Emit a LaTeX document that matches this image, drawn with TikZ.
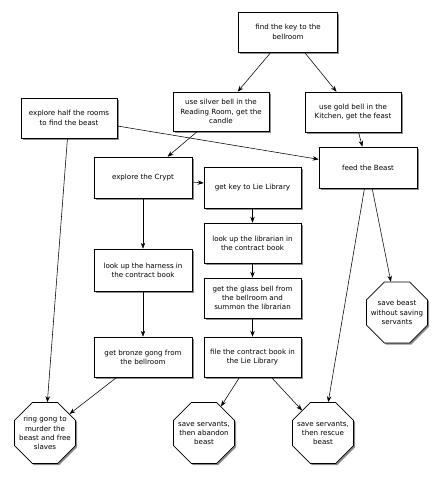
\documentclass[tikz,border=0pt]{standalone}
\usepackage{fontspec}
\setmainfont{DejaVu Sans}
\usetikzlibrary{shapes.geometric,shadows,arrows.meta}
\begin{document}
\begin{tikzpicture}[x=1pt,y=-1pt,
  every node/.style={font=\fontsize{7.1}{9.3}\selectfont, align=center, inner sep=0pt},
  boxnode/.style={draw, line width=0.6pt, fill=white, minimum width=97pt, minimum height=40pt,
    drop shadow={shadow xshift=1.6pt, shadow yshift=-1.6pt, fill=black, opacity=0.45}},
  octa/.style={draw, line width=0.6pt, fill=white, regular polygon, regular polygon sides=8, minimum size=66pt,
    drop shadow={shadow xshift=1.6pt, shadow yshift=-1.6pt, fill=black, opacity=0.45}},
  octatext/.style={},
  conn/.style={-{Stealth[length=6pt,width=4.5pt]}, line width=0.55pt}
]
\useasboundingbox (0,0) rectangle (442,482);
\node[boxnode, minimum width=99pt] (key) at (288,32) {find the key to the\\bellroom};
\node[boxnode, minimum width=96pt, minimum height=39pt] (silver) at (221,111.5) {use silver bell in the\\Reading Room, get the\\candle};
\node[boxnode, minimum width=96pt] (gold) at (353,112) {use gold bell in the\\Kitchen, get the feast};
\node[boxnode, minimum width=96pt] (half) at (69,118) {explore half the rooms\\to find the beast};
\node[boxnode, minimum width=98pt, minimum height=41pt] (feed) at (368,167.5) {feed the Beast};
\node[boxnode, minimum width=98pt, minimum height=41pt] (crypt) at (143,177.5) {explore the Crypt};
\node[boxnode, minimum height=41pt] (getkey) at (252.5,187.5) {get key to Lie Library};
\node[boxnode] (librarian) at (252.5,243) {look up the librarian in\\the contract book};
\node[boxnode, minimum width=98pt, minimum height=42pt] (harness) at (143,270) {look up the harness in\\the contract book};
\node[boxnode] (glass) at (252.5,298) {get the glass bell from\\the bellroom and\\summon the librarian};
\node[boxnode, minimum width=98pt] (bronze) at (143,357) {get bronze gong from\\the bellroom};
\node[boxnode] (file) at (252.5,357) {file the contract book in\\the Lie Library};
\node[octa] (without) at (397,312.5) {};
\node[octatext] (withoutT) at (without.center) {save beast\\without saving\\servants};
\node[octa] (ring) at (45,433) {};
\node[octatext] (ringT) at (ring.center) {ring gong to\\murder the\\beast and free\\slaves};
\node[octa] (abandon) at (204,433) {};
\node[octatext] (abandonT) at (abandon.center) {save servants,\\then abandon\\beast};
\node[octa] (rescue) at (323,433) {};
\node[octatext] (rescueT) at (rescue.center) {save servants,\\then rescue\\beast};

\draw[conn] (key) -- (silver);
\draw[conn] (key) -- (gold);
\draw[conn] (silver) -- (crypt);
\draw[conn] (half) -- (feed);
\draw[conn] (gold) -- (feed);
\draw[conn] (half) -- (ring);
\draw[conn] (crypt) -- (getkey);
\draw[conn] (crypt) -- (harness);
\draw[conn] (getkey) -- (librarian);
\draw[conn] (librarian) -- (glass);
\draw[conn] (harness) -- (bronze);
\draw[conn] (glass) -- (file);
\draw[conn] (bronze) -- (ring);
\draw[conn] (file) -- (abandon);
\draw[conn] (file) -- (rescue);
\draw[conn] (feed) -- (rescue);
\draw[conn] (feed) -- (without);
\end{tikzpicture}
\end{document}
